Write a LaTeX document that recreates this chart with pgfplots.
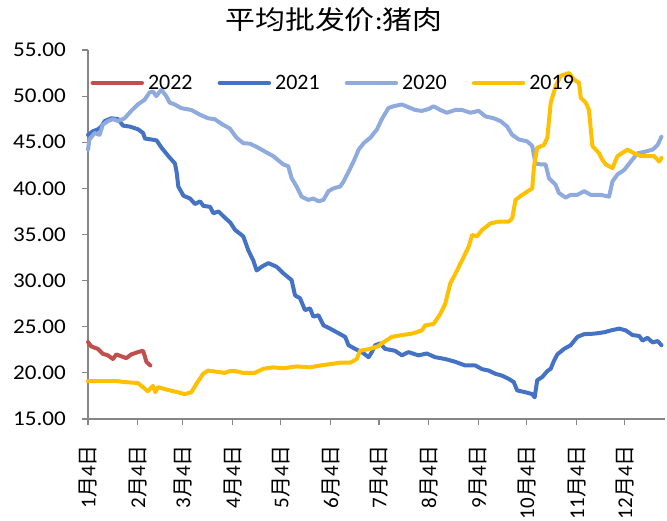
\documentclass[border=0pt]{standalone}
\usepackage{fontspec}
\setmainfont{Carlito}
\newfontfamily\cjk{Noto Sans CJK SC}
\usepackage{pgfplots}
\usepackage{pgfplotstable}
\pgfplotsset{compat=1.18}
\definecolor{c22}{HTML}{C0504D}
\definecolor{c21}{HTML}{4472C4}
\definecolor{c20}{HTML}{8FAADC}
\definecolor{c19}{HTML}{FFC000}
\definecolor{axgray}{HTML}{868686}

\pgfplotstableread{
d v
0 23.34
2 22.87
6.1 22.6
9.2 22.07
12.4 21.9
15.5 21.5
17.6 22.0
20.7 21.8
23.8 21.6
26.9 22.0
31 22.25
34.2 22.4
35.2 21.9
36.3 21.2
38.8 20.8
}\tA

\pgfplotstableread{
d v
0 45.8
3.1 46.2
6.2 46.4
8.3 46.7
10.4 47.3
14.5 47.6
18.7 47.5
21.8 46.8
26 46.7
31.2 46.4
34.3 46.0
35.4 45.4
39.5 45.3
42.7 45.2
45.8 44.4
50 43.5
54.1 42.7
55.2 41.7
56.2 40.2
59.4 39.2
63.5 38.9
66.6 38.3
69.7 38.6
71.8 38.1
76 38.0
78 37.3
81.2 37.5
85.3 36.8
88.5 36.3
91.5 35.5
96.6 34.8
99.7 33.3
102.8 32.2
104.9 31.1
108 31.5
112.2 31.9
117.4 31.5
121.5 30.8
126.7 30.05
128.8 28.4
131.9 28.1
135 26.8
138.1 27.0
140.2 26.1
143.4 26.25
146.5 25.15
150.6 24.8
154.8 24.4
160 23.9
162.1 23.0
166.2 22.6
170.4 22.25
174.6 21.7
176.6 22.25
178.7 23.0
181.9 23.2
184.8 22.6
191 22.4
195.3 21.9
199.4 22.25
205.6 21.9
210.8 22.1
216 21.7
222.3 21.5
228.5 21.2
234.7 20.8
241 20.8
245.2 20.4
249.3 20.25
253.5 19.9
257.6 19.7
261.8 19.35
264.9 19.0
267 18.1
272.2 17.9
276.4 17.7
277.9 17.35
279.5 19.2
282.6 19.55
285.8 20.2
287.9 20.45
289.9 21.3
292 22.0
296.2 22.6
300.3 23.0
304.5 23.9
308.7 24.2
314.9 24.25
321.1 24.4
325.3 24.6
330.5 24.8
334.6 24.6
338.8 24.1
343 24.0
345 23.5
348.1 23.8
351.3 23.3
354.4 23.45
356.8 23.0
}\tB

\pgfplotstableread{
d v
0 44.2
0.9 45.3
4.1 46.0
7.2 45.8
9.2 46.9
12.4 47.3
15.5 47.5
18.6 47.3
22.8 47.6
26.9 48.4
31 49.1
35.2 49.6
38.3 50.4
40.4 50.5
42.5 50.0
45.6 50.7
48.7 50.0
50.8 49.3
53.9 49.1
58 48.7
64.3 48.5
69.5 48.0
74.7 47.6
78.8 47.5
84 46.9
88.2 46.5
92.4 45.5
96.6 44.9
100.7 44.85
104.9 44.5
110 44.0
115.2 43.5
121.5 42.6
124.6 42.4
126.7 41.1
129.8 40.2
132.9 39.1
137.1 38.75
140.2 38.9
143.4 38.6
146.5 38.75
149.6 39.7
152.7 40.0
156.9 40.2
159 40.75
162.1 41.8
165.2 42.9
168.4 44.2
171.5 44.9
175.7 45.5
179.8 46.4
182.8 47.5
186.9 48.7
190 48.9
195.3 49.1
199.4 48.8
203.6 48.5
207.7 48.4
211.9 48.6
215 48.9
219.2 48.5
223.3 48.2
228.5 48.5
232.7 48.5
237.9 48.2
243.1 48.4
247.3 47.8
252.5 47.6
256.6 47.3
260.8 46.7
263.9 45.8
268.1 45.3
273.2 45.1
276.4 44.6
278.4 42.7
281.6 42.6
284.7 42.6
286.8 41.1
290.9 40.4
293 39.5
297.2 39.0
300.3 39.3
304.5 39.3
308.7 39.7
312.8 39.3
319 39.3
324.2 39.1
326.3 40.75
329.4 41.5
333.6 42.0
337.7 42.9
341.9 43.8
347.1 44.0
351.3 44.2
354.4 44.7
356.8 45.6
}\tC

\pgfplotstableread{
d v
0 19.1
8.2 19.1
18.6 19.1
22.8 19.0
31 18.9
34.2 18.45
37.3 18.0
40.4 18.6
41.9 17.9
43.5 18.45
49.7 18.15
56 17.9
60.1 17.7
64.3 17.9
67.4 18.8
71.6 19.9
74.7 20.25
80.9 20.1
85 20.0
88.2 20.2
91.3 20.2
96.6 20.0
103.8 20.0
109 20.44
115.2 20.6
121.5 20.5
129.8 20.7
138.1 20.6
144.4 20.8
150.6 20.95
156.8 21.1
163.1 21.1
167.2 21.5
169.3 22.4
175.5 22.6
180.7 22.9
182.8 23.2
189 23.9
195.3 24.1
201.5 24.25
207.7 24.6
209.8 25.15
215 25.3
219.2 26.4
222.3 27.5
225.4 29.7
229.6 31.1
232.7 32.2
236.9 33.7
239 34.95
242 34.8
245.2 35.5
250.4 36.2
255.6 36.4
261.8 36.4
263.9 36.75
266 38.75
270.2 39.3
276.4 40.0
277.5 42.4
279.5 44.4
283.7 44.7
285.8 45.5
287.9 49.3
291 51.1
294.1 52.2
299.3 52.5
302.4 51.8
305.5 51.45
306.6 49.8
309.7 49.3
311.7 48.5
313.8 44.6
318 43.8
320 43.1
322.1 42.6
326.3 42.2
329.4 43.5
335.6 44.2
339.8 43.8
344 43.5
348.1 43.5
352.3 43.5
355.4 42.9
356.8 43.3
}\tD

\begin{document}
\begin{tikzpicture}[x=1pt,y=1pt]
\begin{axis}[
  at={(88pt,101pt)}, anchor=south west,
  scale only axis, width=577pt, height=369pt,
  xmin=0, xmax=359, ymin=15, ymax=55,
  axis x line*=bottom, axis y line*=left,
  axis line style={axgray, line width=1.2pt},
  tick style={axgray, line width=1.2pt},
  tick align=outside, major tick length=6pt,
  xtick={0,31,59,90,120,151,181,212,243,273,304,334},
  xticklabels={1{\cjk 月}4{\cjk 日},2{\cjk 月}4{\cjk 日},3{\cjk 月}4{\cjk 日},4{\cjk 月}4{\cjk 日},5{\cjk 月}4{\cjk 日},6{\cjk 月}4{\cjk 日},7{\cjk 月}4{\cjk 日},8{\cjk 月}4{\cjk 日},9{\cjk 月}4{\cjk 日},10{\cjk 月}4{\cjk 日},11{\cjk 月}4{\cjk 日},12{\cjk 月}4{\cjk 日}},
  xticklabel style={rotate=90, anchor=east, font=\fontsize{21}{25}\selectfont, inner sep=0pt, xshift=-20pt},
  ytick={15,20,...,55},
  yticklabel style={font=\fontsize{21}{25}\selectfont, /pgf/number format/fixed, /pgf/number format/fixed zerofill, /pgf/number format/precision=2, /pgf/number format/assume math mode=true, inner sep=0pt, xshift=-16pt, xscale=1.1},
  scaled y ticks=false,
  clip=false,
  legend style={at={(0.004,0.9106)}, anchor=west, draw=none, fill=none, inner sep=0pt,
    font=\fontsize{22}{26}\selectfont, nodes={inner sep=0pt},
    /tikz/every odd column/.append style={column sep=4pt},
    /tikz/every even column/.append style={column sep=25pt}},
  legend columns=4,
  legend image code/.code={\draw[#1, line width=4.5pt, line cap=round] (2pt,0pt) -- (51pt,0pt);},
  every axis plot/.append style={line width=4pt, line cap=round, line join=round},
]
\addplot[c22] table[x=d,y=v]{\tA}; \addlegendentry{2022}
\addplot[c21] table[x=d,y=v]{\tB}; \addlegendentry{2021}
\addplot[c20] table[x=d,y=v]{\tC}; \addlegendentry{2020}
\addplot[c19] table[x=d,y=v]{\tD}; \addlegendentry{2019}
\end{axis}
\node[font=\fontsize{26}{30}\selectfont, xscale=1.15] at (334pt,500pt) {{\cjk 平均批发价}:{\cjk 猪肉}};
\pgfresetboundingbox
\useasboundingbox (0,0) rectangle (667pt,520pt);
\end{tikzpicture}
\end{document}
